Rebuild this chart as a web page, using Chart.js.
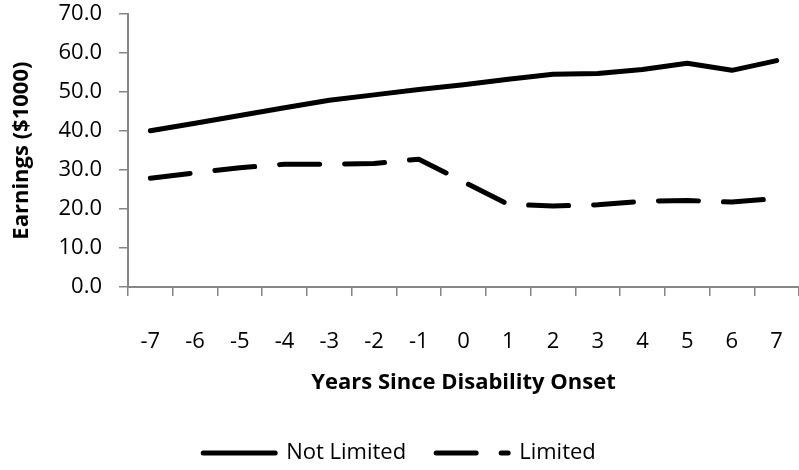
<!DOCTYPE html>
<html>
<head>
<meta charset="utf-8">
<script src="https://cdn.jsdelivr.net/npm/chart.js@4"></script>
<style>
  body { margin: 0; background: #fff; }
  #wrap { width: 799px; height: 470px; position: relative; }
</style>
</head>
<body>
<div id="wrap"><canvas id="chart"></canvas></div>
<script>
// years relative to onset
const years = ["-7", "-6", "-5", "-4", "-3", "-2", "-1", "0", "1", "2", "3", "4", "5", "6", "7"]

// earnings in $1000
const notLimited = [40.1, 42.0, 44.0, 46.0, 47.9, 49.3, 50.7, 51.9, 53.3, 54.6, 54.8, 55.8, 57.4, 55.6, 58.1]
const limited = [27.9, 29.3, 30.6, 31.5, 31.5, 31.7, 32.8, 27.0, 21.2, 20.8, 21.1, 22.0, 22.2, 21.8, 22.7]

const axisGray = "#868686"

Chart.defaults.font.family = "'Open Sans', sans-serif"
Chart.defaults.font.size = 22
Chart.defaults.color = "#000"

const ctx = document.getElementById("chart").getContext("2d")

new Chart(ctx, {
  type: "line",
  data: {
    labels: years,
    datasets: [
      {
        label: "Not Limited",
        data: notLimited,
        borderColor: "#000",
        backgroundColor: "#000",
        borderWidth: 5,
        borderCapStyle: "round",
        borderJoinStyle: "round",
        pointRadius: 0,
        tension: 0,
      },
      {
        label: "Limited",
        data: limited,
        borderColor: "#000",
        backgroundColor: "#000",
        borderWidth: 5,
        borderDash: [40, 25],
        borderCapStyle: "round",
        borderJoinStyle: "round",
        pointRadius: 0,
        tension: 0,
      },
    ],
  },
  options: {
    responsive: true,
    maintainAspectRatio: false,
    animation: false,
    layout: {
      padding: { top: 0, left: 0, right: 0, bottom: -4 },
    },
    plugins: {
      tooltip: { enabled: false },
      legend: {
        position: "bottom",
        labels: {
          usePointStyle: true,
          pointStyleWidth: 72,
          padding: 30,
          color: "#000",
          generateLabels: (chart) =>
            chart.data.datasets.map((ds, i) => ({
              text: ds.label,
              fillStyle: ds.borderColor,
              strokeStyle: ds.borderColor,
              lineWidth: 5,
              lineDash: ds.borderDash || [],
              lineCap: "round",
              pointStyle: "line",
              hidden: false,
              datasetIndex: i,
            })),
        },
      },
    },
    scales: {
      x: {
        offset: true,
        afterFit: (scale) => {
          scale.height = 125
        },
        grid: {
          display: true,
          offset: true,
          drawOnChartArea: false,
          drawTicks: true,
          tickLength: 9,
          color: axisGray,
          lineWidth: 1.5,
        },
        border: { display: true, color: axisGray, width: 2 },
        ticks: {
          padding: 8,
          maxRotation: 0,
          autoSkip: false,
          font: { lineHeight: 3.45 }, // pushes the labels down without widening the axis
        },
        title: {
          display: true,
          text: "Years Since Disability Onset",
          font: { weight: "bold" },
          padding: { top: 0, bottom: 16 },
        },
      },
      y: {
        min: 0,
        max: 70,
        afterFit: (scale) => {
          scale.width = 128
        },
        grid: {
          display: true,
          drawOnChartArea: false,
          drawTicks: true,
          // long tick slot keeps labels away from the axis, dash shows only the 9px next to it
          tickLength: 25,
          tickBorderDash: [9, 16],
          tickBorderDashOffset: 9,
          color: axisGray,
          lineWidth: 1.5,
        },
        border: { display: true, color: axisGray, width: 2 },
        ticks: {
          stepSize: 10,
          padding: 1,
          callback: (value) => value.toFixed(1),
        },
        title: {
          display: true,
          text: "Earnings ($1000)",
          font: { weight: "bold" },
          padding: { top: 9, bottom: 0 },
        },
      },
    },
  },
})
</script>
</body>
</html>
